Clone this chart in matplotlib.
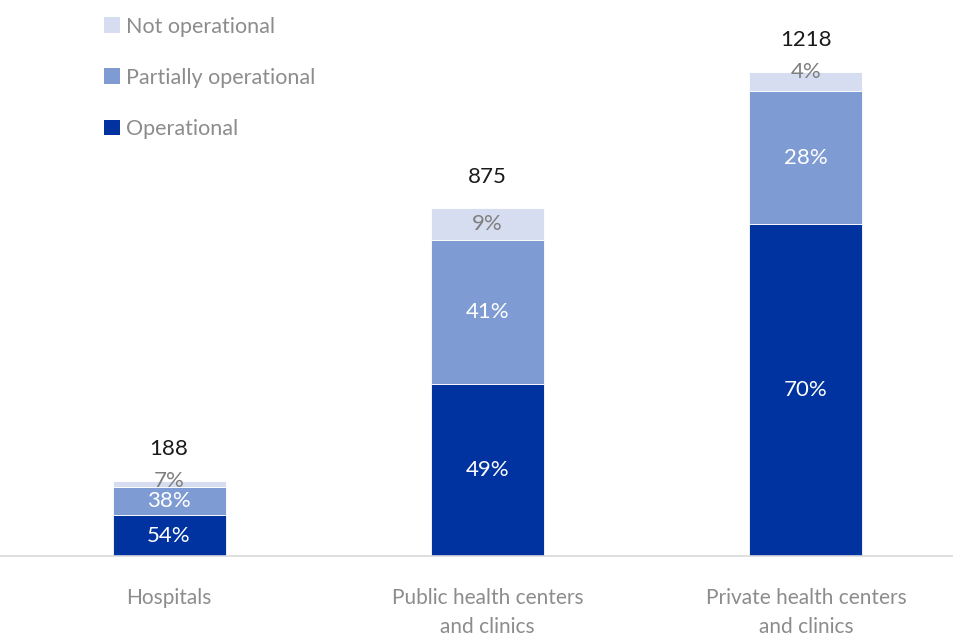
import matplotlib.pyplot as plt
import numpy as np

plt.rcParams['font.family'] = ['Lato', 'DejaVu Sans']

categories = ['Hospitals', 'Public health centers\nand clinics', 'Private health centers\nand clinics']
totals = [188, 875, 1218]
operational = [54, 49, 70]
partial = [38, 41, 28]
not_operational = [7, 9, 4]

series = [('Operational', operational, '#0033a0', 'white'),
          ('Partially operational', partial, '#7f9bd3', 'white'),
          ('Not operational', not_operational, '#d6ddf0', '#7f7f7f')]

fig = plt.figure(figsize=(9.54, 6.39), dpi=100)
ax = fig.add_axes([0, 0.13, 1, 0.87])

x = np.arange(len(categories))
pct_sum = np.array(operational) + np.array(partial) + np.array(not_operational)
bottom = np.zeros(len(categories))
handles = []
for name, pct, color, tcolor in series:
    h = np.array(totals) * np.array(pct) / pct_sum
    bars = ax.bar(x, h, 0.355, bottom=bottom, color=color, edgecolor='white',
                  linewidth=0.6, label=name)
    handles.append(bars)
    for xi, b, hi, p in zip(x, bottom, h, pct):
        y = b + hi / 2 if hi > 60 else b + hi
        ax.text(xi, y, f'{p}%', ha='center', va='center', color=tcolor,
                fontsize=16)
    bottom += h

for xi, t in zip(x, totals):
    ax.annotate(str(t), (xi, t), xytext=(0, 23), textcoords='offset points',
                ha='center', va='center', fontsize=16, color='#1a1a1a')

ax.set_xlim(-0.531, 2.465)
ax.set_ylim(0, 1400)
ax.set_xticks(x)
ax.set_xticklabels(categories, fontsize=15, color='#8c8c8c',
                   linespacing=1.6, va='top')
ax.tick_params(axis='x', length=0, pad=23)
ax.set_yticks([])
for s in ['top', 'right', 'left']:
    ax.spines[s].set_visible(False)
ax.spines['bottom'].set_color('#d9d9d9')
ax.spines['bottom'].set_linewidth(1.2)

leg = ax.legend(handles[::-1], [s[0] for s in series][::-1], loc='upper left',
                bbox_to_anchor=(0.089, 1.005), frameon=False,
                labelspacing=1.45, handlelength=0.75, handleheight=0.75,
                handletextpad=0.25, labelcolor='#8c8c8c',
                prop={'size': 15.5})
for p in leg.get_patches():
    p.set_edgecolor('none')

fig.savefig('out.png', dpi=100)
